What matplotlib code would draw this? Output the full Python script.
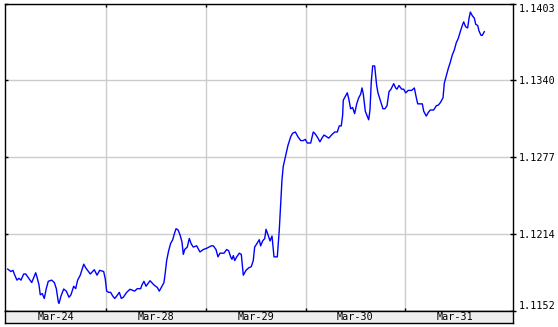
import matplotlib
matplotlib.use('Agg')
import matplotlib.pyplot as plt
import numpy as np

day_labels = ['Mar-24', 'Mar-28', 'Mar-29', 'Mar-30', 'Mar-31']
y_ticklabels = ['1.1152', '1.1214', '1.1277', '1.1340', '1.1403']
y_lo, y_hi = 1.1152, 1.1403

# time in trading days since the start of Mar-24
t = [0.011, 0.044, 0.064, 0.077, 0.104, 0.124, 0.144, 0.172, 0.192, 0.218,
     0.252, 0.292, 0.305, 0.325, 0.338, 0.358, 0.378, 0.398, 0.418, 0.452,
     0.479, 0.499, 0.519, 0.526, 0.546, 0.573, 0.599, 0.626, 0.646, 0.673,
     0.693, 0.713, 0.739, 0.774, 0.794, 0.840, 0.880, 0.907, 0.934, 0.974,
     0.990, 1.004, 1.024, 1.044, 1.065, 1.085, 1.105, 1.131, 1.151, 1.171,
     1.205, 1.238, 1.285, 1.311, 1.345, 1.358, 1.378, 1.399, 1.439, 1.479,
     1.512, 1.532, 1.559, 1.579, 1.592, 1.606, 1.626, 1.646, 1.667, 1.680,
     1.700, 1.720, 1.740, 1.760, 1.773, 1.787, 1.813, 1.833, 1.853, 1.873,
     1.907, 1.940, 1.974, 2.008, 2.054, 2.074, 2.101, 2.121, 2.141, 2.181,
     2.208, 2.228, 2.248, 2.261, 2.275, 2.289, 2.309, 2.335, 2.355, 2.369,
     2.375, 2.402, 2.429, 2.455, 2.475, 2.489, 2.509, 2.535, 2.549, 2.569,
     2.590, 2.603, 2.623, 2.643, 2.663, 2.683, 2.716, 2.736, 2.750, 2.763,
     2.776, 2.803, 2.823, 2.850, 2.870, 2.897, 2.924, 2.951, 2.977, 2.997,
     3.017, 3.051, 3.077, 3.091, 3.117, 3.144, 3.164, 3.184, 3.205, 3.232,
     3.265, 3.292, 3.318, 3.338, 3.358, 3.372, 3.378, 3.398, 3.418, 3.432,
     3.452, 3.472, 3.492, 3.513, 3.533, 3.553, 3.566, 3.579, 3.599, 3.619,
     3.633, 3.646, 3.659, 3.673, 3.693, 3.713, 3.726, 3.749, 3.776, 3.796,
     3.817, 3.837, 3.857, 3.884, 3.904, 3.917, 3.937, 3.964, 3.984, 4.004,
     4.030, 4.065, 4.091, 4.111, 4.125, 4.145, 4.171, 4.185, 4.211, 4.231,
     4.251, 4.285, 4.312, 4.332, 4.352, 4.379, 4.392, 4.412, 4.432, 4.452,
     4.472, 4.492, 4.512, 4.532, 4.552, 4.572, 4.586, 4.606, 4.626, 4.640,
     4.653, 4.673, 4.693, 4.707, 4.727, 4.740, 4.760, 4.773, 4.793]

price = [1.1186, 1.1184, 1.1185, 1.1182, 1.1177, 1.11785, 1.1177, 1.1182, 1.1182, 1.1179,
         1.1175, 1.1183, 1.11795, 1.1173, 1.1165, 1.1166, 1.1162, 1.1170, 1.1176, 1.1177,
         1.1175, 1.1170, 1.1159, 1.1158, 1.1164, 1.11697, 1.1168, 1.1163, 1.1165, 1.1172,
         1.1170, 1.1177, 1.1181, 1.1190, 1.1187, 1.1182, 1.11855, 1.1181, 1.1185, 1.1184,
         1.1178, 1.1168, 1.1167, 1.1167, 1.1164, 1.1162, 1.1164, 1.1167, 1.1162, 1.1163,
         1.1167, 1.11695, 1.1168, 1.1170, 1.1170, 1.1173, 1.1176, 1.1172, 1.11765, 1.1173,
         1.1171, 1.1168, 1.1172, 1.1175, 1.1183, 1.1193, 1.1201, 1.1207, 1.1210, 1.1214,
         1.1219, 1.1218, 1.1214, 1.1208, 1.1198, 1.1202, 1.1204, 1.1211, 1.12065, 1.1204,
         1.1205, 1.1200, 1.1202, 1.1203, 1.1205, 1.1205, 1.1202, 1.1196, 1.1199, 1.1199,
         1.1202, 1.1201, 1.1196, 1.1194, 1.1197, 1.1193, 1.1196, 1.1199, 1.1198, 1.1186,
         1.1181, 1.1185, 1.1187, 1.1188, 1.1193, 1.1204, 1.12065, 1.1210, 1.1205, 1.1209,
         1.1211, 1.12185, 1.1214, 1.1209, 1.1213, 1.1196, 1.1196, 1.1218, 1.1240, 1.1259,
         1.1270, 1.1280, 1.1287, 1.1294, 1.1297, 1.1298, 1.1294, 1.1291, 1.1291, 1.1292,
         1.1289, 1.1289, 1.1298, 1.1297, 1.1294, 1.1290, 1.1293, 1.12955, 1.12945, 1.1293,
         1.1296, 1.1298, 1.1298, 1.1303, 1.1303, 1.1312, 1.1324, 1.1327, 1.1330, 1.13255,
         1.1317, 1.1318, 1.1313, 1.1321, 1.1326, 1.1329, 1.1334, 1.1329, 1.1315, 1.1311,
         1.1308, 1.1316, 1.1339, 1.1352, 1.1352, 1.1336, 1.1330, 1.1324, 1.1317, 1.1317,
         1.13195, 1.1331, 1.1333, 1.13375, 1.1334, 1.1333, 1.1336, 1.1333, 1.1333, 1.1330,
         1.1332, 1.1332, 1.1334, 1.1326, 1.1321, 1.1321, 1.1321, 1.1315, 1.1311, 1.1314,
         1.1316, 1.1316, 1.13195, 1.1320, 1.1322, 1.1326, 1.1338, 1.1344, 1.1350, 1.1355,
         1.1361, 1.1365, 1.1371, 1.13745, 1.1380, 1.1385, 1.1388, 1.1384, 1.1383, 1.1391,
         1.1396, 1.1393, 1.1391, 1.1386, 1.1385, 1.13805, 1.1377, 1.1377, 1.1380]

plt.rcParams['font.family'] = 'DejaVu Sans Mono'
fs = 7.3

fig = plt.figure(figsize=(5.58, 3.27), dpi=100)
W, H = 558.0, 327.0
left, right, top, bot = 5.0, 513.3, 3.5, 310.7
x0, x1 = -0.016, 5.084

ax = fig.add_axes([left / W, 1 - bot / H, (right - left) / W, (bot - top) / H])
ax.plot(t, price, color='#0000ff', lw=1.0)
ax.set_xlim(x0, x1)
ax.set_ylim(y_lo, y_hi)

yt = np.linspace(y_lo, y_hi, len(y_ticklabels))
days = np.arange(1, len(day_labels))
ax.set_xticks(days)
ax.set_yticks(yt)
ax.grid(True, color='#cccccc', lw=1.0)
ax.set_axisbelow(True)
ax.tick_params(axis='x', which='both', direction='in', length=2.5, top=True,
               bottom=True, labelbottom=False, color='black', width=1)
ax.tick_params(axis='y', which='both', direction='in', length=2.5, left=True,
               right=False, labelleft=False, color='black', width=1)
for s in ax.spines.values():
    s.set_color('black')
    s.set_linewidth(1.0)

axr = ax.twinx()
axr.set_ylim(y_lo, y_hi)
axr.set_yticks(yt)
axr.set_yticklabels(y_ticklabels, fontsize=fs, color='black')
axr.tick_params(axis='y', direction='inout', length=4.5, width=1, pad=2, color='black')
labs = axr.get_yticklabels()
labs[0].set_va('bottom')
labs[-1].set_va('top')
for s in axr.spines.values():
    s.set_visible(False)

band_top, band_bot = 310.7, 323.3
axb = fig.add_axes([left / W, 1 - band_bot / H, (right - left) / W, (band_bot - band_top) / H])
axb.set_facecolor('#eeeeee')
axb.set_xlim(x0, x1)
axb.set_ylim(0, 1)
axb.set_xticks([])
axb.set_yticks([])
for s in axb.spines.values():
    s.set_color('black')
    s.set_linewidth(1.0)
for i, lab in enumerate(day_labels):
    axb.text(i + 0.5, 0.5, lab, ha='center', va='center', fontsize=fs, color='black')

fig.savefig('out.png', dpi=100)
